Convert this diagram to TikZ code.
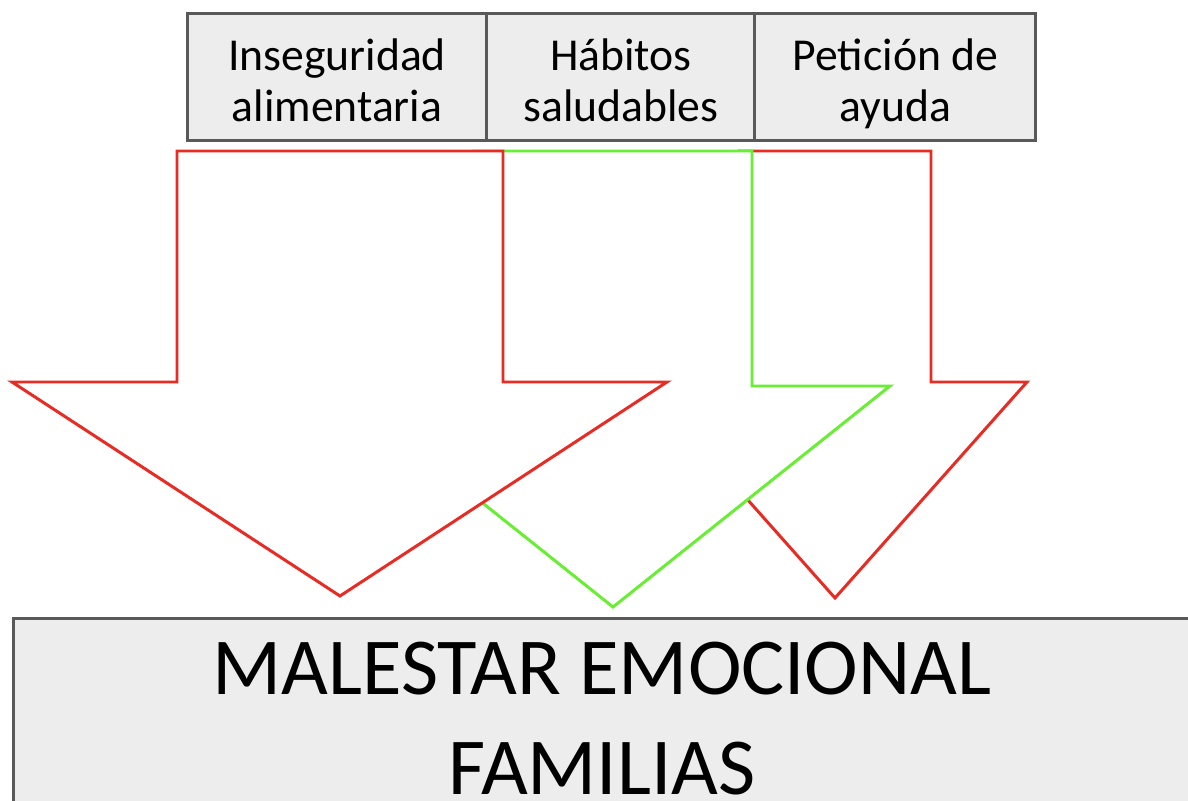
\documentclass[tikz,border=0pt]{standalone}
\usepackage{fontspec}
\setmainfont{Carlito}
\usetikzlibrary{positioning}
\definecolor{arrowred}{RGB}{232,44,36}
\definecolor{arrowgreen}{RGB}{104,238,50}
\definecolor{boxgray}{RGB}{237,237,237}
\definecolor{edgegray}{RGB}{89,89,89}
\tikzset{
    topic/.style={draw=edgegray,fill=boxgray,line width=1.7pt,align=center,
        minimum height=2.56cm,text height=51pt,text depth=0pt,
        font=\fontsize{26}{29}\selectfont},
    blockarrow/.style={fill=white,line width=1.7pt,line join=miter},
}
\begin{document}
\begin{tikzpicture}[x=0.02cm,y=-0.02cm]
    \useasboundingbox (0,0) rectangle (1188,801);
    \node[topic,minimum width=6cm] (inseguridad) at (337,77) {Inseguridad\\alimentaria};
    \node[topic,minimum width=5.36cm,right=-1.7pt of inseguridad] (habitos) {Hábitos\\saludables};
    \node[topic,minimum width=5.62cm,right=-1.7pt of habitos] (peticion) {Petición de\\ayuda};
    % arrows, back to front
    \draw[blockarrow,draw=arrowred] (739,151) -- (931,151) -- (931,382) -- (1027,382) -- (835,598) -- (643,382) -- (739,382) -- cycle;
    \draw[blockarrow,draw=arrowgreen] (474,151) -- (752,151) -- (752,386) -- (890,386) -- (613,607) -- (336,386) -- (474,386) -- cycle;
    \draw[blockarrow,draw=arrowred] (177,151) -- (503,151) -- (503,382) -- (667,382) -- (340,596) -- (12,382) -- (177,382) -- cycle;
    \node[draw=edgegray,fill=boxgray,line width=1.7pt,anchor=north,minimum width=23.56cm,
        inner ysep=0pt,text height=100pt,text depth=20pt,align=center,
        font=\fontsize{46}{57}\selectfont] (malestar) at (602,617)
        {MALESTAR EMOCIONAL\\FAMILIAS};
\end{tikzpicture}
\end{document}
